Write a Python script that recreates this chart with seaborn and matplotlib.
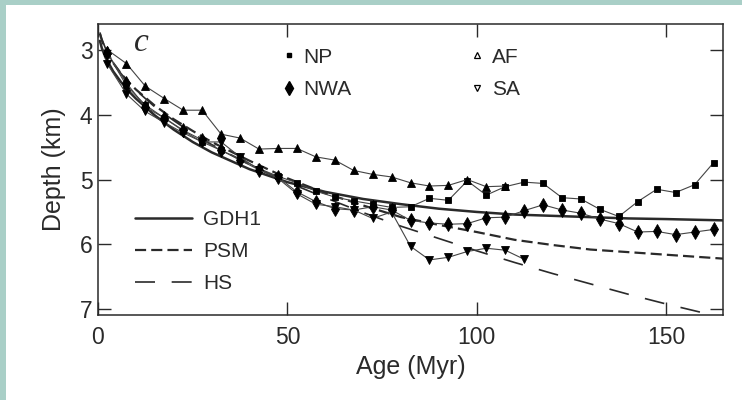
# depth_age.py - 海底深度与年龄关系图

import matplotlib
matplotlib.use('Agg')
import matplotlib.pyplot as plt
from matplotlib.lines import Line2D
from matplotlib.patches import Rectangle
import seaborn as sns

# 数据点的年龄（5 Myr 分箱中点）
bin_age = [2.5, 7.5, 12.5, 17.5, 22.5, 27.5, 32.5, 37.5, 42.5, 47.5,
           52.5, 57.5, 62.5, 67.5, 72.5, 77.5, 82.5, 87.5, 92.5, 97.5,
           102.5, 107.5, 112.5, 117.5, 122.5, 127.5, 132.5, 137.5, 142.5,
           147.5, 152.5, 157.5, 162.5]

np_depth = [3.05, 3.55, 3.85, 4.05, 4.25, 4.42, 4.55, 4.68, 4.83, 4.95,
            5.05, 5.18, 5.27, 5.33, 5.38, 5.43, 5.42, 5.29, 5.32, 5.02,
            5.24, 5.11, 5.04, 5.06, 5.28, 5.30, 5.46, 5.57, 5.34,
            5.15, 5.20, 5.08, 4.74]

nwa_depth = [3.05, 3.51, 3.88, 4.05, 4.24, 4.39, 4.55, 4.70, 4.85, 4.96,
             5.19, 5.34, 5.45, 5.47, 5.42, 5.47, 5.63, 5.67, 5.69, 5.68,
             5.59, 5.58, 5.48, 5.39, 5.47, 5.52, 5.61, 5.68, 5.81,
             5.80, 5.85, 5.81, 5.77]

af_depth = [3.00, 3.21, 3.56, 3.75, 3.93, 3.93, 4.30, 4.36, 4.53, 4.52,
            4.52, 4.65, 4.70, 4.86, 4.92, 4.96, 5.05, 5.10, 5.09, 5.00,
            5.11, 5.10]

sa_depth = [3.22, 3.68, 3.95, 4.12, 4.28, 4.42, 4.42, 4.65, 4.85, 4.98,
            5.22, 5.38, 5.42, 5.47, 5.60, 5.50, 6.03, 6.24, 6.20, 6.11,
            6.06, 6.09, 6.23]

# 模型曲线
model_age = [0.5, 1, 2, 4, 6, 8, 10, 15, 20, 25, 30, 40, 50, 60, 70, 80,
             90, 100, 110, 120, 130, 140, 150, 165]
gdh1_depth = [2.86, 2.97, 3.12, 3.33, 3.49, 3.63, 3.75, 4.01, 4.23, 4.42,
              4.58, 4.84, 5.04, 5.19, 5.30, 5.38, 5.45, 5.50, 5.54, 5.56,
              5.58, 5.60, 5.61, 5.63]
psm_depth = [2.75, 2.85, 3.00, 3.20, 3.36, 3.49, 3.61, 3.86, 4.07, 4.25,
             4.42, 4.71, 4.98, 5.21, 5.40, 5.58, 5.70, 5.81, 5.93, 6.01,
             6.08, 6.12, 6.16, 6.22]
hs_depth = [2.73, 2.83, 2.98, 3.20, 3.36, 3.50, 3.62, 3.88, 4.09, 4.29,
            4.46, 4.77, 5.04, 5.28, 5.51, 5.72, 5.91, 6.10, 6.28, 6.45,
            6.61, 6.77, 6.92, 7.13]

sns.set_style('ticks')
plt.rcParams['font.family'] = ['Liberation Sans', 'DejaVu Sans']

ink = '#2a2a2a'

fig = plt.figure(figsize=(7.42, 4.0), dpi=100)
fig.patch.set_facecolor('#a9cfc7')
# 白色背景区域（左侧和上方留出边框）
fig.add_artist(Rectangle((6 / 742, 0), 1, 1 - 5 / 400, transform=fig.transFigure,
                         facecolor='white', edgecolor='none', zorder=0))

ax = fig.add_axes([98 / 742, 85 / 400, 625 / 742, 291 / 400])
ax.set_facecolor('white')

# 模型曲线
sns.lineplot(x=model_age, y=gdh1_depth, ax=ax, color=ink, lw=1.8, sort=False)
sns.lineplot(x=model_age, y=psm_depth, ax=ax, color=ink, lw=1.6,
             linestyle=(0, (5, 2.3)), sort=False)
sns.lineplot(x=model_age, y=hs_depth, ax=ax, color=ink, lw=1.2,
             linestyle=(0, (12, 10)), sort=False)

# 观测数据
series = [
    (bin_age, np_depth, 's', 4.2),
    (bin_age, nwa_depth, 'd', 7.5),
    (bin_age[:len(af_depth)], af_depth, '^', 6.0),
    (bin_age[:len(sa_depth)], sa_depth, 'v', 6.0),
]
for xs, ys, mk, ms in series:
    sns.lineplot(x=xs, y=ys, ax=ax, color='#444444', lw=0.8, marker=mk,
                 markersize=ms, markerfacecolor='black', markeredgecolor='black',
                 markeredgewidth=0.6, sort=False)

ax.set_xlim(0, 165)
ax.set_ylim(7.09, 2.6)
ax.set_xticks([0, 50, 100, 150])
ax.set_yticks([3, 4, 5, 6, 7])

for side in ['left', 'right', 'top', 'bottom']:
    ax.spines[side].set_visible(True)
    ax.spines[side].set_linewidth(1.1)
    ax.spines[side].set_color(ink)

ax.tick_params(direction='in', length=9.5, width=1.0, color=ink,
               top=True, right=True, labelsize=16.5, labelcolor=ink)
ax.tick_params(axis='x', pad=8)
ax.tick_params(axis='y', pad=4)

ax.set_xlabel('Age (Myr)', fontsize=18, color=ink, labelpad=4)
ax.set_ylabel('Depth (km)', fontsize=18, color=ink, labelpad=10)

ax.text(0.069, 0.935, 'c', transform=ax.transAxes, fontsize=24,
        family='Liberation Serif', style='italic', ha='center', va='center',
        color=ink)

# 图例：数据点
h_pts = [
    Line2D([], [], ls='none', marker='s', ms=3.5, color='black'),
    Line2D([], [], ls='none', marker='d', ms=7, color='black'),
    Line2D([], [], ls='none', marker='^', ms=4.5, mfc='white', mec='black', mew=0.9),
    Line2D([], [], ls='none', marker='v', ms=4.5, mfc='white', mec='black', mew=0.9),
]
leg1 = ax.legend(h_pts, ['NP', 'NWA', 'AF', 'SA'], ncol=2, frameon=False,
                 loc='upper left', bbox_to_anchor=(0.275, 0.955), borderpad=0,
                 handlelength=0.8, handletextpad=0.32, columnspacing=5.6,
                 labelspacing=0.65, fontsize=15, labelcolor=ink)
ax.add_artist(leg1)

# 图例：模型曲线
h_lines = [
    Line2D([], [], color=ink, lw=1.8),
    Line2D([], [], color=ink, lw=1.6, ls=(0, (5, 2.3))),
    Line2D([], [], color=ink, lw=1.2, ls=(0, (12, 10))),
]
ax.legend(h_lines, ['GDH1', 'PSM', 'HS'], frameon=False, loc='upper left',
          bbox_to_anchor=(0.043, 0.395), borderpad=0, handlelength=2.74,
          handletextpad=0.53, labelspacing=0.62, fontsize=15, labelcolor=ink)

fig.savefig('out.png', dpi=100, facecolor=fig.get_facecolor())
